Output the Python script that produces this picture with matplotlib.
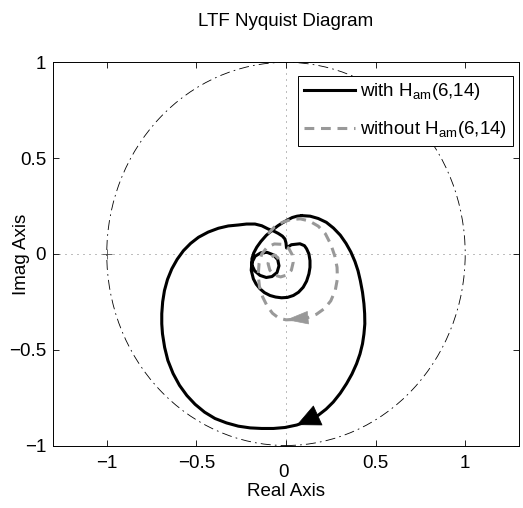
import numpy as np
import matplotlib.pyplot as plt
import matplotlib.transforms as mtransforms
from matplotlib.patches import Circle

plt.rcParams['font.family'] = ['Liberation Sans', 'DejaVu Sans']
plt.rcParams['mathtext.fontset'] = 'custom'
plt.rcParams['mathtext.rm'] = 'Liberation Sans'
plt.rcParams['font.size'] = 13.5

# Nyquist locus with H_am(6,14): outer loop, notch near origin, inner loop and curl
with_re = [0.087, 0.135, 0.180, 0.225, 0.265, 0.303, 0.335, 0.362, 0.385, 0.402,
           0.415, 0.427, 0.435, 0.439, 0.440, 0.435, 0.427, 0.413, 0.394, 0.368,
           0.338, 0.303, 0.264, 0.224, 0.180, 0.110, 0.060, -0.006, -0.070, -0.136,
           -0.200, -0.266, -0.332, -0.396, -0.454, -0.507, -0.553, -0.594, -0.630, -0.659,
           -0.677, -0.689, -0.693, -0.693, -0.688, -0.678, -0.661, -0.637, -0.607, -0.572,
           -0.532, -0.488, -0.434, -0.377, -0.322, -0.266, -0.220, -0.173, -0.135, -0.099,
           -0.070, -0.043, -0.020, -0.006, 0.000, 0.003, 0.030, 0.078, 0.103, 0.115,
           0.128, 0.134, 0.134, 0.128, 0.115, 0.096, 0.070, 0.041, 0.008, -0.025,
           -0.058, -0.089, -0.120, -0.145, -0.166, -0.182, -0.194, -0.190, -0.172, -0.140,
           -0.105, -0.070, -0.046, -0.039, -0.050, -0.078, -0.110, -0.145, -0.175, -0.190,
           -0.190, -0.180, -0.163, -0.140, -0.110, -0.071, -0.045, -0.020, 0.008, 0.035,
           0.062, 0.087]
with_im = [0.200, 0.197, 0.185, 0.165, 0.135, 0.098, 0.055, 0.010, -0.040, -0.088,
           -0.140, -0.200, -0.260, -0.312, -0.365, -0.418, -0.469, -0.522, -0.573, -0.627,
           -0.677, -0.727, -0.773, -0.810, -0.842, -0.877, -0.893, -0.906, -0.911, -0.911,
           -0.908, -0.899, -0.882, -0.859, -0.826, -0.785, -0.739, -0.686, -0.624, -0.556,
           -0.488, -0.417, -0.365, -0.312, -0.250, -0.191, -0.133, -0.078, -0.028, 0.017,
           0.055, 0.087, 0.114, 0.134, 0.146, 0.151, 0.156, 0.156, 0.147, 0.130,
           0.120, 0.107, 0.093, 0.078, 0.058, 0.031, 0.048, 0.053, 0.043, 0.027,
           0.000, -0.035, -0.070, -0.104, -0.142, -0.174, -0.200, -0.217, -0.227, -0.229,
           -0.225, -0.217, -0.202, -0.182, -0.158, -0.130, -0.085, -0.045, -0.012, 0.006,
           0.008, -0.005, -0.030, -0.062, -0.097, -0.118, -0.123, -0.112, -0.088, -0.058,
           -0.025, 0.005, 0.035, 0.065, 0.097, 0.128, 0.147, 0.162, 0.177, 0.190,
           0.197, 0.200]

# Nyquist locus without H_am(6,14): clockwise spiral into the origin
without_re = [-0.100, -0.065, -0.020, 0.030, 0.080, 0.130, 0.180, 0.220, 0.250, 0.272,
              0.285, 0.287, 0.275, 0.250, 0.215, 0.170, 0.120, 0.060, 0.000, -0.040,
              -0.075, -0.105, -0.130, -0.148, -0.155, -0.150, -0.135, -0.105, -0.065, -0.020,
              0.015, 0.035, 0.040, 0.030, 0.005, -0.030, -0.065, -0.090, -0.100, -0.090,
              -0.065, -0.045, -0.040]
without_im = [0.105, 0.140, 0.165, 0.180, 0.183, 0.172, 0.145, 0.105, 0.050, -0.010,
              -0.070, -0.130, -0.190, -0.245, -0.285, -0.315, -0.333, -0.342, -0.344, -0.335,
              -0.310, -0.272, -0.225, -0.170, -0.110, -0.050, 0.000, 0.035, 0.052, 0.050,
              0.030, -0.005, -0.045, -0.085, -0.110, -0.120, -0.110, -0.085, -0.050, -0.020,
              -0.005, -0.020, -0.045]

# direction arrows: (tail index, head index) along each locus
with_arrow = (24, 26)
without_arrow = (16, 18)

xticks = [-1, -0.5, 0, 0.5, 1]
yticks = [-1, -0.5, 0, 0.5, 1]

fig = plt.figure(figsize=(5.23, 5.08), dpi=100)
ax = fig.add_axes([0.1013, 0.1230, 0.8910, 0.7543])

# unit circle and the axis cross lines
ax.add_patch(Circle((0, 0), 1, fill=False, color='k', lw=0.6,
                    ls=(0, (12, 5, 2, 5)), zorder=1))
ax.axhline(0, color='0.4', lw=0.6, ls=(0, (1.2, 6)), zorder=1)
ax.axvline(0, color='0.4', lw=0.6, ls=(0, (1.2, 6)), zorder=1)
ax.plot([-1], [0], marker='+', color='0.3', ms=7, mew=0.6, zorder=1)

ax.plot(with_re, with_im, color='k', lw=2.2, solid_joinstyle='round',
        label=r'with H$_{\mathrm{am}}$(6,14)', zorder=3)
ax.plot(without_re, without_im, color='0.6', lw=2.2, dashes=(3.2, 2.2),
        label=r'without H$_{\mathrm{am}}$(6,14)', zorder=4)

i0, i1 = with_arrow
ax.annotate('', xy=(with_re[i1], with_im[i1]), xytext=(with_re[i0], with_im[i0]),
            arrowprops=dict(arrowstyle='-|>,head_length=16,head_width=7.5',
                            mutation_scale=1, color='k', lw=0.5,
                            shrinkA=0, shrinkB=0), zorder=5)
i0, i1 = without_arrow
ax.annotate('', xy=(without_re[i1], without_im[i1]), xytext=(without_re[i0], without_im[i0]),
            arrowprops=dict(arrowstyle='-|>,head_length=15,head_width=4.5',
                            mutation_scale=1, color='0.6', lw=0.5,
                            shrinkA=0, shrinkB=0), zorder=5)

ax.set_xlim(-1.3, 1.3)
ax.set_ylim(-1, 1)
ax.set_xticks(xticks)
ax.set_xticklabels(['\u22121', '\u22120.5', '0', '0.5', '1'])
ax.set_yticks(yticks)
ax.set_yticklabels(['\u22121', '\u22120.5', '0', '0.5', '1'])
ax.tick_params(direction='in', length=4, width=0.6, top=True, right=True)
ax.tick_params(axis='x', pad=7)
ax.tick_params(axis='y', pad=5)
for sp in ax.spines.values():
    sp.set_linewidth(0.7)

# the zero label on the real axis sits a little lower
for tick in ax.xaxis.get_major_ticks():
    if tick.get_loc() == 0:
        off = mtransforms.ScaledTranslation(-2 / 72, -6 / 72, fig.dpi_scale_trans)
        tick.label1.set_transform(tick.label1.get_transform() + off)

ax.set_xlabel('Real Axis', labelpad=2)
ax.set_ylabel('Imag Axis')
ax.yaxis.set_label_coords(-0.05, 0.5)
ax.set_title('LTF Nyquist Diagram', pad=26, fontsize=13.5)

leg = ax.legend(loc='upper right', bbox_to_anchor=(0.987, 0.965), borderaxespad=0,
                handlelength=2.7, handletextpad=0.3, fancybox=False, framealpha=1,
                edgecolor='k', borderpad=0.3, labelspacing=0.9)
leg.get_frame().set_linewidth(0.7)

fig.savefig('out.png', dpi=100)
